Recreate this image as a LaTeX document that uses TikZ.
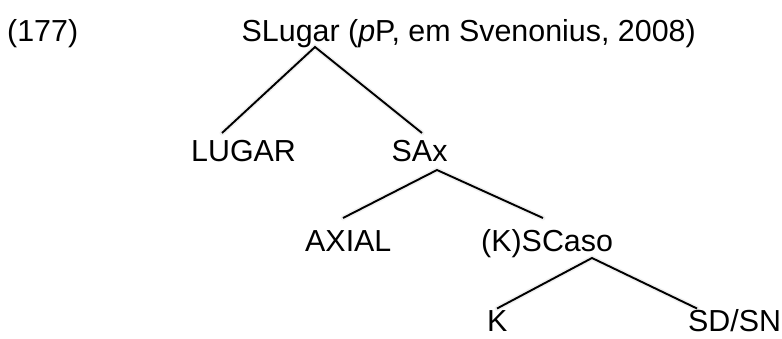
\documentclass[tikz,border=0pt]{standalone}
\usepackage{fontspec}
\setmainfont{Liberation Sans}
\begin{document}
\begin{tikzpicture}[x=1pt,y=-1pt,
  lbl/.style={anchor=base west,inner sep=0pt,font=\fontsize{30.4}{36}\selectfont},
  branch/.style={line width=1.9pt,black},
  branchshade/.style={line width=5pt,black,opacity=0.06,line cap=round}]
  \useasboundingbox (0,0) rectangle (782,338);

  % example number and tree labels
  \node[lbl] (ex)   at (7,41)     {(177)};
  \node[lbl] (root) at (241.5,41) {SLugar (\textit{p}P, em Svenonius, 2008)};
  \node[lbl] (lug)  at (191,161)  {LUGAR};
  \node[lbl] (sax)  at (391.5,161){SAx};
  \node[lbl] (ax)   at (305,251)  {AXIAL};
  \node[lbl] (ksc)  at (481,251)  {(K)SCaso};
  \node[lbl] (k)    at (487,331.5)  {K};
  \node[lbl] (sdsn) at (688,331.5){SD/SN};

  % branch end points
  \coordinate (root-b) at (315,47);
  \coordinate (lug-t)  at (222,133);
  \coordinate (sax-t)  at (422,133);
  \coordinate (sax-b)  at (437,170);
  \coordinate (ax-t)   at (343,218);
  \coordinate (ksc-t)  at (543,218);
  \coordinate (ksc-b)  at (592,258);
  \coordinate (k-t)    at (497,308.5);
  \coordinate (sdsn-t) at (697,308.5);

  % faint shading under the branches
  \begin{scope}[shift={(1,2.5)}]
    \draw[branchshade] (lug-t) -- (root-b) -- (sax-t);
    \draw[branchshade] (ax-t) -- (sax-b) -- (ksc-t);
    \draw[branchshade] (k-t) -- (ksc-b) -- (sdsn-t);
  \end{scope}

  % branches
  \draw[branch] (lug-t) -- (root-b) -- (sax-t);
  \draw[branch] (ax-t) -- (sax-b) -- (ksc-t);
  \draw[branch] (k-t) -- (ksc-b) -- (sdsn-t);
\end{tikzpicture}
\end{document}
